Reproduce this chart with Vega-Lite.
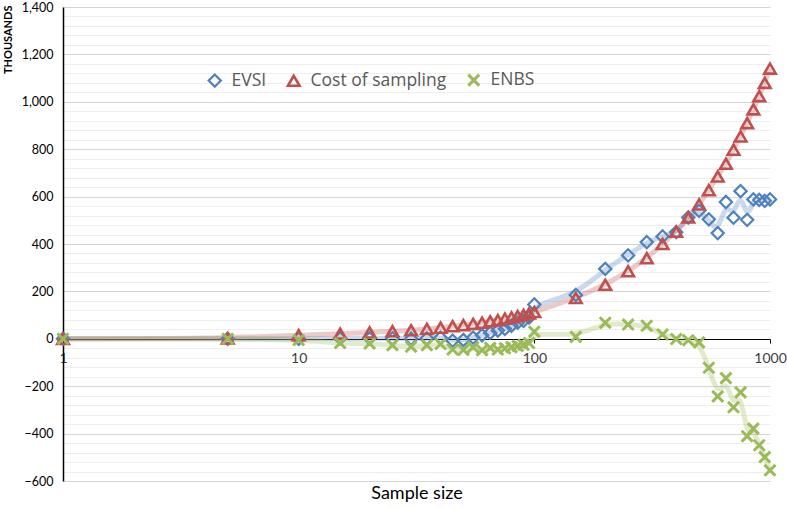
{
  "$schema": "https://vega.github.io/schema/vega-lite/v6.json",
  "width": 707,
  "height": 474,
  "autosize": "none",
  "padding": {"left": 63, "top": 7, "right": 17, "bottom": 27},
  "background": "white",
  "config": {"view": {"stroke": null}, "font": "Lato"},
  "data": {"values": [
    {"n":1,"series":"EVSI","value":0},{"n":5,"series":"EVSI","value":0},{"n":10,"series":"EVSI","value":0},{"n":15,"series":"EVSI","value":2},{"n":20,"series":"EVSI","value":2},{"n":25,"series":"EVSI","value":2},{"n":30,"series":"EVSI","value":0},{"n":35,"series":"EVSI","value":2},{"n":40,"series":"EVSI","value":5},{"n":45,"series":"EVSI","value":-8},{"n":50,"series":"EVSI","value":-5},{"n":55,"series":"EVSI","value":5},{"n":60,"series":"EVSI","value":15},{"n":65,"series":"EVSI","value":25},{"n":70,"series":"EVSI","value":35},{"n":75,"series":"EVSI","value":42},{"n":80,"series":"EVSI","value":55},{"n":85,"series":"EVSI","value":68},{"n":90,"series":"EVSI","value":76},{"n":95,"series":"EVSI","value":90},{"n":100,"series":"EVSI","value":145},{"n":150,"series":"EVSI","value":185},{"n":200,"series":"EVSI","value":295},{"n":250,"series":"EVSI","value":352},{"n":300,"series":"EVSI","value":408},{"n":350,"series":"EVSI","value":432},{"n":400,"series":"EVSI","value":450},{"n":450,"series":"EVSI","value":512},{"n":500,"series":"EVSI","value":540},{"n":550,"series":"EVSI","value":504},{"n":600,"series":"EVSI","value":446},{"n":650,"series":"EVSI","value":577},{"n":700,"series":"EVSI","value":511},{"n":750,"series":"EVSI","value":623},{"n":800,"series":"EVSI","value":502},{"n":850,"series":"EVSI","value":588},{"n":900,"series":"EVSI","value":586},{"n":950,"series":"EVSI","value":582},{"n":1000,"series":"EVSI","value":588},
    {"n":1,"series":"Cost of sampling","value":0},{"n":5,"series":"Cost of sampling","value":2},{"n":10,"series":"Cost of sampling","value":15},{"n":15,"series":"Cost of sampling","value":22},{"n":20,"series":"Cost of sampling","value":27},{"n":25,"series":"Cost of sampling","value":32},{"n":30,"series":"Cost of sampling","value":36},{"n":35,"series":"Cost of sampling","value":42},{"n":40,"series":"Cost of sampling","value":47},{"n":45,"series":"Cost of sampling","value":53},{"n":50,"series":"Cost of sampling","value":58},{"n":55,"series":"Cost of sampling","value":63},{"n":60,"series":"Cost of sampling","value":68},{"n":65,"series":"Cost of sampling","value":74},{"n":70,"series":"Cost of sampling","value":79},{"n":75,"series":"Cost of sampling","value":85},{"n":80,"series":"Cost of sampling","value":90},{"n":85,"series":"Cost of sampling","value":96},{"n":90,"series":"Cost of sampling","value":101},{"n":95,"series":"Cost of sampling","value":107},{"n":100,"series":"Cost of sampling","value":113},{"n":150,"series":"Cost of sampling","value":172},{"n":200,"series":"Cost of sampling","value":228},{"n":250,"series":"Cost of sampling","value":285},{"n":300,"series":"Cost of sampling","value":340},{"n":350,"series":"Cost of sampling","value":400},{"n":400,"series":"Cost of sampling","value":452},{"n":450,"series":"Cost of sampling","value":512},{"n":500,"series":"Cost of sampling","value":567},{"n":550,"series":"Cost of sampling","value":627},{"n":600,"series":"Cost of sampling","value":685},{"n":650,"series":"Cost of sampling","value":739},{"n":700,"series":"Cost of sampling","value":798},{"n":750,"series":"Cost of sampling","value":854},{"n":800,"series":"Cost of sampling","value":910},{"n":850,"series":"Cost of sampling","value":968},{"n":900,"series":"Cost of sampling","value":1024},{"n":950,"series":"Cost of sampling","value":1080},{"n":1000,"series":"Cost of sampling","value":1140},
    {"n":1,"series":"ENBS","value":0},{"n":5,"series":"ENBS","value":0},{"n":10,"series":"ENBS","value":-5},{"n":15,"series":"ENBS","value":-18},{"n":20,"series":"ENBS","value":-20},{"n":25,"series":"ENBS","value":-27},{"n":30,"series":"ENBS","value":-33},{"n":35,"series":"ENBS","value":-27},{"n":40,"series":"ENBS","value":-22},{"n":45,"series":"ENBS","value":-45},{"n":50,"series":"ENBS","value":-47},{"n":55,"series":"ENBS","value":-35},{"n":60,"series":"ENBS","value":-48},{"n":65,"series":"ENBS","value":-38},{"n":70,"series":"ENBS","value":-45},{"n":75,"series":"ENBS","value":-40},{"n":80,"series":"ENBS","value":-35},{"n":85,"series":"ENBS","value":-30},{"n":90,"series":"ENBS","value":-25},{"n":95,"series":"ENBS","value":-18},{"n":100,"series":"ENBS","value":30},{"n":150,"series":"ENBS","value":8},{"n":200,"series":"ENBS","value":68},{"n":250,"series":"ENBS","value":60},{"n":300,"series":"ENBS","value":55},{"n":350,"series":"ENBS","value":18},{"n":400,"series":"ENBS","value":-1},{"n":450,"series":"ENBS","value":-6},{"n":500,"series":"ENBS","value":-15},{"n":550,"series":"ENBS","value":-122},{"n":600,"series":"ENBS","value":-243},{"n":650,"series":"ENBS","value":-166},{"n":700,"series":"ENBS","value":-289},{"n":750,"series":"ENBS","value":-226},{"n":800,"series":"ENBS","value":-411},{"n":850,"series":"ENBS","value":-379},{"n":900,"series":"ENBS","value":-449},{"n":950,"series":"ENBS","value":-499},{"n":1000,"series":"ENBS","value":-555}
  ]},
  "encoding": {
    "x": {
      "field": "n", "type": "quantitative",
      "scale": {"type": "log", "domain": [1, 1000], "nice": false},
      "axis": {
        "values": [1, 10, 100, 1000], "format": "d", "grid": false, "offset": -142,
        "domainColor": "black", "domainWidth": 1.2, "tickColor": "black", "tickSize": 4,
        "labelFontSize": 14, "labelColor": "#404040", "labelPadding": 8, "labelFlush": false,
        "title": "Sample size", "titleFontSize": 18, "titleFontWeight": "normal", "titleColor": "#000000",
        "titleY": 145, "titleBaseline": "top"
      }
    },
    "y": {
      "field": "value", "type": "quantitative",
      "scale": {"domain": [-600, 1400], "nice": false, "zero": false},
      "axis": {
        "values": [-600,-560,-520,-480,-440,-400,-360,-320,-280,-240,-200,-160,-120,-80,-40,0,40,80,120,160,200,240,280,320,360,400,440,480,520,560,600,640,680,720,760,800,840,880,920,960,1000,1040,1080,1120,1160,1200,1240,1280,1320,1360,1400],
        "labelExpr": "datum.value % 200 === 0 ? format(datum.value, ',') : ''",
        "ticks": false, "domainColor": "black", "domainWidth": 1.5,
        "gridColor": {"condition": {"test": "datum.value % 200 === 0", "value": "#d4d4d4"}, "value": "#eeeeee"},
        "gridWidth": 1,
        "labelFontSize": 12.5, "labelColor": "#000000", "labelPadding": 10,
        "title": "THOUSANDS", "titleFontSize": 11, "titleFontWeight": "bold", "titleColor": "#000000",
        "titleAngle": -90, "titleX": -55, "titleY": -2, "titleAlign": "right", "titleBaseline": "middle"
      }
    },
    "color": {
      "field": "series", "type": "nominal",
      "scale": {"domain": ["EVSI", "Cost of sampling", "ENBS"], "range": ["#4F81BD", "#C0504D", "#9BBB59"]},
      "legend": {
        "orient": "none", "legendX": 143, "legendY": 64, "direction": "horizontal", "title": null,
        "labelFont": "Open Sans", "labelFontSize": 17.5, "labelColor": "#595959", "symbolStrokeWidth": 2.8, "symbolSize": 110,
        "symbolOpacity": 1, "columnPadding": 15, "labelOffset": 8
      }
    }
  },
  "layer": [
    {
      "mark": {"type": "line", "interpolate": "basis", "strokeWidth": 5, "opacity": 0.3}
    },
    {
      "mark": {"type": "point", "filled": false, "opacity": 1},
      "encoding": {
        "shape": {
          "field": "series", "type": "nominal",
          "scale": {"domain": ["EVSI", "Cost of sampling", "ENBS"], "range": ["diamond", "triangle-up", "M-1,-1L1,1M1,-1L-1,1"]}
        },
        "size": {
          "field": "series", "type": "nominal", "legend": null,
          "scale": {"domain": ["EVSI", "Cost of sampling", "ENBS"], "range": [150, 120, 80]}
        },
        "strokeWidth": {
          "field": "series", "type": "nominal", "legend": null,
          "scale": {"domain": ["EVSI", "Cost of sampling", "ENBS"], "range": [2.2, 3, 2.6]}
        }
      }
    }
  ]
}
